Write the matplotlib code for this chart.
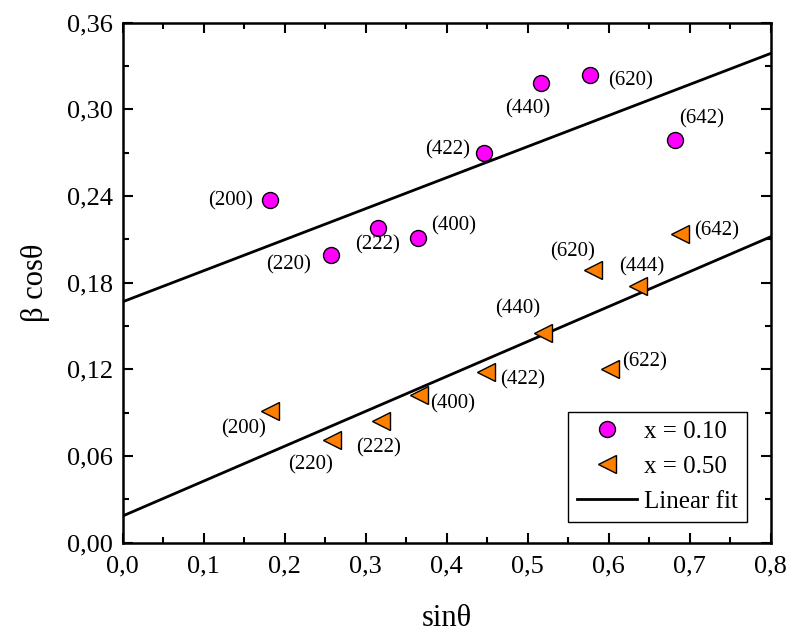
import matplotlib
matplotlib.use("Agg")
import matplotlib.pyplot as plt
from matplotlib.ticker import MultipleLocator, FuncFormatter
import numpy as np

plt.rcParams['font.family'] = ['Liberation Serif', 'DejaVu Serif']

# x = 0.10 (circles)
sin1 = [0.182, 0.257, 0.315, 0.365, 0.446, 0.517, 0.577, 0.682]
bcos1 = [0.237, 0.199, 0.218, 0.211, 0.270, 0.318, 0.324, 0.279]
hkl1 = ['(200)', '(220)', '(222)', '(400)', '(422)', '(440)', '(620)', '(642)']

# x = 0.50 (triangles)
sin2 = [0.182, 0.258, 0.319, 0.366, 0.449, 0.519, 0.581, 0.636, 0.602, 0.688]
bcos2 = [0.091, 0.071, 0.084, 0.102, 0.118, 0.145, 0.189, 0.178, 0.120, 0.214]
hkl2 = ['(200)', '(220)', '(222)', '(400)', '(422)', '(440)', '(620)', '(444)', '(622)', '(642)']

# linear fits (intercept, slope)
fit1 = (0.1668, 0.2149)
fit2 = (0.0185, 0.2416)

# label offsets in pixels (dx, dy), dy up
off1 = [(-40, 0), (-42, -10), (0, -17), (35, 12), (-36, 3), (-14, -25), (40, -6), (27, 21)]
off2 = [(-27, -18), (-21, -25), (-3, -26), (33, -8), (36, -8), (-25, 24), (-21, 18), (4, 19), (34, 8), (37, 3)]

fig = plt.figure(figsize=(7.89, 6.34), dpi=100)
ax = fig.add_axes([0.1555, 0.144, 0.8213, 0.8202])

xf = np.array([0, 0.8])
ax.plot(xf, fit1[0] + fit1[1] * xf, color='black', lw=2, zorder=2)
ax.plot(xf, fit2[0] + fit2[1] * xf, color='black', lw=2, zorder=2, label='Linear fit')

ax.plot(sin1, bcos1, 'o', ms=11.5, mfc='#FF00FF', mec='black', mew=1.0, ls='none', zorder=3, label='x = 0.10')
ax.plot(sin2, bcos2, '<', ms=13, mfc='#FF8000', mec='black', mew=1.0, ls='none', zorder=3, label='x = 0.50')

for x, y, t, (dx, dy) in zip(sin1, bcos1, hkl1, off1):
    ax.annotate(t, (x, y), xytext=(dx, dy), textcoords='offset pixels',
                ha='center', va='center', fontsize=15)
for x, y, t, (dx, dy) in zip(sin2, bcos2, hkl2, off2):
    ax.annotate(t, (x, y), xytext=(dx, dy), textcoords='offset pixels',
                ha='center', va='center', fontsize=15)

ax.set_xlim(0, 0.8)
ax.set_ylim(0, 0.36)
ax.xaxis.set_major_locator(MultipleLocator(0.1))
ax.xaxis.set_minor_locator(MultipleLocator(0.05))
ax.yaxis.set_major_locator(MultipleLocator(0.06))
ax.yaxis.set_minor_locator(MultipleLocator(0.03))
ax.xaxis.set_major_formatter(FuncFormatter(lambda v, p: f"{v:.1f}".replace('.', ',')))
ax.yaxis.set_major_formatter(FuncFormatter(lambda v, p: f"{v:.2f}".replace('.', ',')))
ax.tick_params(which='both', direction='in', top=True, right=True, width=1.5, labelsize=19)
ax.tick_params(axis='x', which='major', length=7, pad=9)
ax.tick_params(axis='y', which='major', length=7, pad=7)
ax.tick_params(which='minor', length=4)
for s in ax.spines.values():
    s.set_linewidth(1.8)

ax.set_xlabel('sinθ', fontsize=22, labelpad=19)
ax.set_ylabel('β cosθ', fontsize=22, labelpad=12)

handles, labels = ax.get_legend_handles_labels()
order = [1, 2, 0]
leg = ax.legend([handles[i] for i in order], [labels[i] for i in order],
                loc='lower right', bbox_to_anchor=(0.9634, 0.0404), borderaxespad=0,
                fontsize=18, fancybox=False, edgecolor='black', framealpha=1,
                handlelength=2.4, borderpad=0.35, labelspacing=0.5, handletextpad=0.3)
leg.get_frame().set_linewidth(1.0)

fig.savefig('out.png', dpi=100)
